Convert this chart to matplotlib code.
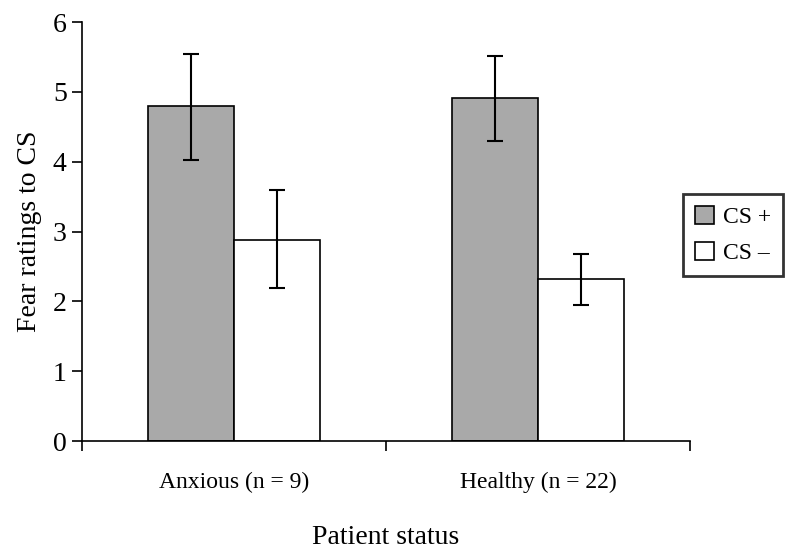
import numpy as np
import matplotlib.pyplot as plt

plt.rcParams['font.family'] = ['Liberation Serif', 'DejaVu Serif']

groups = ['Anxious (n = 9)', 'Healthy (n = 22)']
cs_plus = [4.80, 4.91]
cs_minus = [2.88, 2.32]
# error bar ends (low, high)
cs_plus_lo = [4.03, 4.29]
cs_plus_hi = [5.54, 5.52]
cs_minus_lo = [2.19, 1.95]
cs_minus_hi = [3.60, 2.68]

fig = plt.figure(figsize=(8, 5.59), dpi=100)
ax = fig.add_axes([0.1025, 0.211, 0.76, 0.7496])

x = np.arange(len(groups))
w = 0.283

plus_err = [np.array(cs_plus) - np.array(cs_plus_lo), np.array(cs_plus_hi) - np.array(cs_plus)]
minus_err = [np.array(cs_minus) - np.array(cs_minus_lo), np.array(cs_minus_hi) - np.array(cs_minus)]

ax.bar(x - w/2, cs_plus, w, color='#a9a9a9', edgecolor='black', linewidth=1.2, label='CS +')
ax.bar(x + w/2, cs_minus, w, color='white', edgecolor='black', linewidth=1.2, label='CS \u2013')
ax.errorbar(x - w/2, cs_plus, yerr=plus_err, fmt='none', ecolor='black', elinewidth=1.5, capsize=6, capthick=1.5)
ax.errorbar(x + w/2, cs_minus, yerr=minus_err, fmt='none', ecolor='black', elinewidth=1.5, capsize=6, capthick=1.5)

ax.set_xlim(-0.5, 1.5)
ax.set_ylim(0, 6)
ax.set_yticks(range(7))
ax.set_xticks(x)
ax.set_xticklabels(groups)
ax.set_xticks([-0.5, 0.5, 1.5], minor=True)
ax.tick_params(axis='x', which='major', length=0, pad=22, labelsize=17)
ax.tick_params(axis='x', which='minor', length=7, width=1.2, direction='out')
ax.tick_params(axis='y', length=7, width=1.2, labelsize=20, pad=4)

for s in ['top', 'right']:
    ax.spines[s].set_visible(False)
ax.spines['left'].set_linewidth(1.2)
ax.spines['bottom'].set_linewidth(1.2)

ax.set_ylabel('Fear ratings to CS', fontsize=20, labelpad=8)
ax.set_xlabel('Patient status', fontsize=20, labelpad=23)

leg = ax.legend(loc='center left', bbox_to_anchor=(683/800, 1 - 235/559),
                bbox_transform=fig.transFigure, fontsize=17, frameon=True,
                fancybox=False, edgecolor='black', handlelength=0.8, handleheight=0.8,
                handletextpad=0.4, borderpad=0.5, labelspacing=0.6, borderaxespad=0)
leg.get_frame().set_linewidth(2)

fig.savefig('out.png', dpi=100)
